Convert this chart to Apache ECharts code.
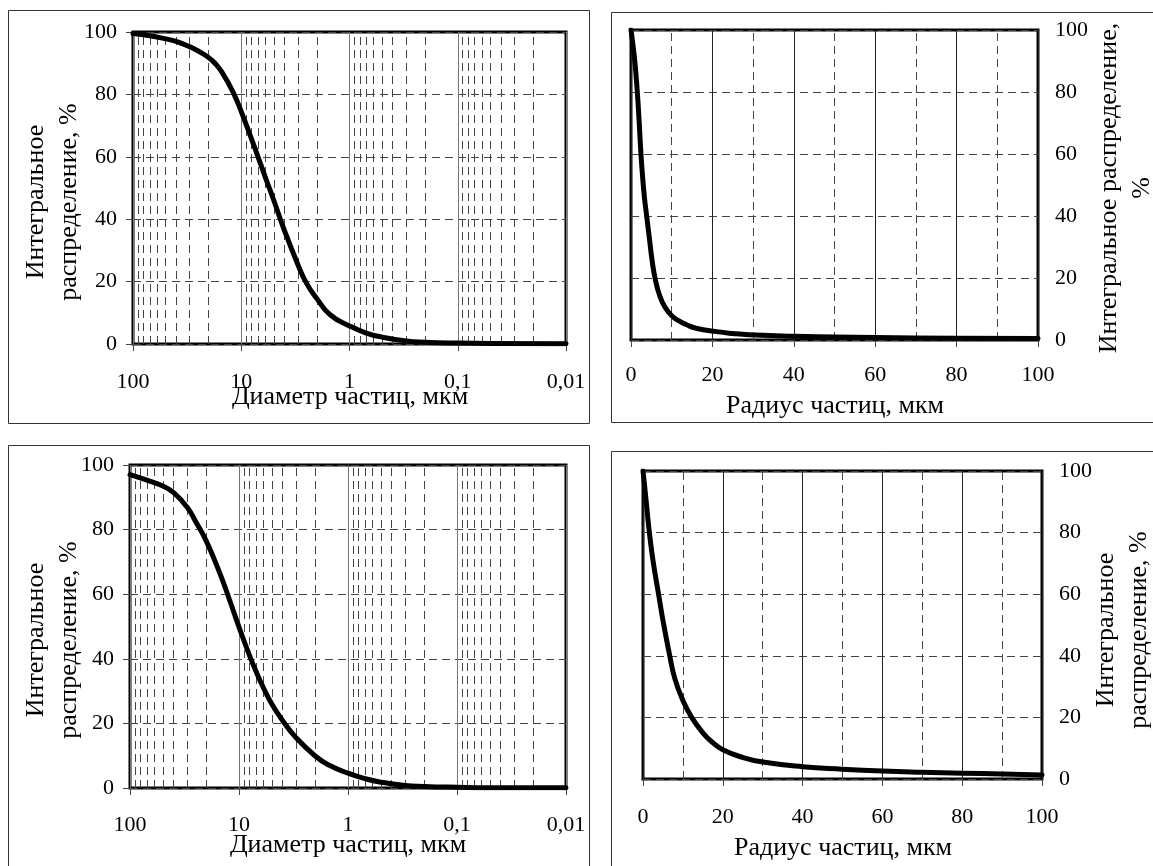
<!DOCTYPE html>
<html>
<head>
<meta charset="utf-8">
<script src="https://cdn.jsdelivr.net/npm/echarts@6/dist/echarts.min.js"></script>
<style>
html,body{margin:0;padding:0;background:#fff;}
#chart{width:1153px;height:866px;}
</style>
</head>
<body>
<div id="chart"></div>
<script>
// ---- data ----
const diam1 = [100,70,50,40,30,25,20,17.5,15,12,10,8,7,6,5,4,3,2.5,2,1.5,1,0.7,0.5,0.3,0.2,0.1,0.05,0.01];
const cum1  = [99.5,98.8,97.8,97.0,95.3,93.9,91.8,90.0,87.0,81.0,74.5,65.5,60,53.5,46,36.5,25.5,19.5,14.5,9.3,5.8,3.5,2.2,1.0,0.6,0.3,0.15,0.05];

const rad2 = [0,0.5,1,1.55,2,2.4,2.8,3.3,3.85,4.5,5.2,5.9,7,8.3,10,12,13.5,16,21,25,29,40,50,60,80,100];
const cum2 = [100,95,89,80,70.5,61,53.5,46,40,33,25.5,20,14.5,10.7,7.8,6.0,5.0,3.8,2.7,2.1,1.7,1.2,1.0,0.8,0.6,0.5];

const diam3 = [100,70,50,40,30,25,20,15,12,10,8,7,6,5,4,3,2,1.5,1,0.7,0.5,0.3,0.2,0.1,0.05,0.01];
const cum3  = [97,95.3,93.5,91.5,87,82.5,76.5,66.5,57.5,49.8,41,36.2,31.2,26,21,15.6,9.9,7.1,4.6,2.9,1.8,0.8,0.5,0.25,0.1,0.05];

const rad4 = [0,0.5,1,1.6,2.5,3.9,5,6.7,8,10,12.2,15,17.5,20,25,30,40,50,60,70,80,90,100];
const cum4 = [100,94,87.5,80,71,60,51.5,40,32.5,25.5,20,15,11.8,9.5,7,5.5,4,3.2,2.6,2.2,1.9,1.6,1.3];

const logTicks = [100,10,1,0.1,0.01];
const logTickLabels = ['100','10','1','0,1','0,01'];
const logMinor = [90,80,70,60,50,40,30,20, 9,8,7,6,5,4,3,2, 0.9,0.8,0.7,0.6,0.5,0.4,0.3,0.2, 0.09,0.08,0.07,0.06,0.05,0.04,0.03,0.02];
const linMinor = [10,30,50,70,90];

const yTitle2 = 'Интегральное\nраспределение, %';
const yTitleR1 = 'Интегральное распределение,\n%';
const xTitleD = 'Диаметр частиц, мкм';
const xTitleR = 'Радиус частиц, мкм';

// ---- styling ----
const FF = '"Liberation Serif", "Times New Roman", serif';
const TICK_FS = 22;
const TITLE_FONT = '26px ' + FF;
const dashed = {type:[8,5], color:'#444', width:1};

function pairs(xs, ys){ return xs.map((x,i)=>[x, ys[i]]); }
function logLabel(v){
  const i = logTicks.findIndex(t => Math.abs(Math.log10(t) - Math.log10(v)) < 1e-6);
  return i >= 0 ? logTickLabels[i] : '';
}

const grids = [
  {left:133, top:32, width:433, height:312},
  {left:631, top:30, width:407, height:310},
  {left:130, top:465, width:436, height:323},
  {left:643, top:471, width:399, height:308}
].map(g => Object.assign({show:true, borderColor:'#000', borderWidth:3, backgroundColor:'transparent'}, g));

function logX(gi, margin){
  return {type:'log', gridIndex:gi, logBase:10, min:0.01, max:100, inverse:true, splitNumber:4,
    axisLine:{show:false},
    axisTick:{show:true, length:7, lineStyle:{color:'#444', width:1}},
    axisLabel:{formatter:logLabel, fontSize:TICK_FS, fontFamily:FF, color:'#000', margin:margin},
    splitLine:{show:true, lineStyle:{color:'#777', width:1}}};
}
function linX(gi, margin){
  return {type:'value', gridIndex:gi, min:0, max:100, interval:20,
    axisLine:{show:false},
    axisTick:{show:true, length:7, lineStyle:{color:'#444', width:1}},
    axisLabel:{fontSize:TICK_FS, fontFamily:FF, color:'#000', margin:margin},
    splitLine:{show:true, lineStyle:{color:'#222', width:1}}};
}
function yAx(gi, pos, margin){
  return {type:'value', gridIndex:gi, min:0, max:100, interval:20, position:pos,
    axisLine:{show:false},
    axisTick:{show:true, length:7, lineStyle:{color:'#444', width:1}},
    axisLabel:{fontSize:TICK_FS, fontFamily:FF, color:'#000', margin:margin},
    splitLine:{show:true, lineStyle:dashed}};
}
function minorSeries(gi, vals){
  return {type:'line', xAxisIndex:gi, yAxisIndex:gi, data:[], z:1, silent:true,
    markLine:{silent:true, symbol:['none','none'], label:{show:false}, animation:false,
      lineStyle:dashed, emphasis:{disabled:true},
      data: vals.map(v => ({xAxis:v}))}};
}
function curve(gi, xs, ys){
  return {type:'line', xAxisIndex:gi, yAxisIndex:gi, data:pairs(xs, ys), z:5,
    smooth:0.5, showSymbol:false, symbol:'none', animation:false,
    lineStyle:{color:'#000', width:5, join:'round', cap:'round'}};
}

function box(x,y,w,h){
  return {type:'rect', shape:{x:x, y:y, width:w, height:h}, silent:true, z:0,
    style:{fill:'none', stroke:'#333', lineWidth:1}};
}
function txt(t, x, y, rot, align){
  return {type:'text', x:x, y:y, rotation:rot||0, silent:true, z:10,
    style:{text:t, font:TITLE_FONT, fill:'#000', textAlign:align||'center', textVerticalAlign:'middle', lineHeight:33}};
}

const option = {
  animation:false,
  backgroundColor:'#fff',
  grid: grids,
  xAxis: [logX(0, 27), linX(1, 24), logX(2, 26), linX(3, 27)],
  yAxis: [yAx(0,'left',16), yAx(1,'right',17), yAx(2,'left',16), yAx(3,'right',17)],
  series: [
    minorSeries(0, logMinor), minorSeries(1, linMinor), minorSeries(2, logMinor), minorSeries(3, linMinor),
    curve(0, diam1, cum1), curve(1, rad2, cum2), curve(2, diam3, cum3), curve(3, rad4, cum4)
  ],
  graphic: [
    box(8.5, 10.5, 581, 413), box(611.5, 12.5, 600, 410),
    box(8.5, 445.5, 581, 440), box(611.5, 451.5, 600, 440),
    txt(xTitleD, 350, 397), txt(xTitleR, 835, 406),
    txt(xTitleD, 348, 845), txt(xTitleR, 843, 848),
    txt(yTitle2, 53, 202, Math.PI/2), txt(yTitleR1, 1126, 188, Math.PI/2),
    txt(yTitle2, 53, 640, Math.PI/2), txt(yTitle2, 1123, 630, Math.PI/2)
  ]
};

const chart = echarts.init(document.getElementById('chart'), null, {renderer:'canvas'});
chart.setOption(option);
</script>
</body>
</html>
